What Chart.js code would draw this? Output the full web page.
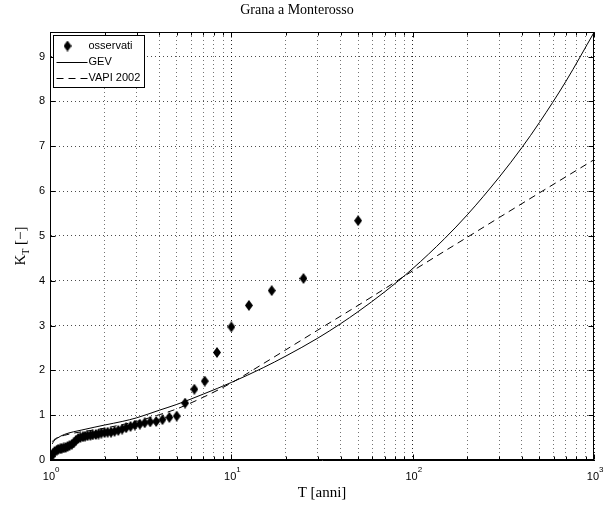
<!DOCTYPE html>
<html>
<head>
<meta charset="utf-8">
<script src="https://cdn.jsdelivr.net/npm/chart.js@4.4.0/dist/chart.umd.min.js"></script>
<style>
  html, body { margin: 0; padding: 0; background: #fff; }
</style>
</head>
<body>
<canvas id="chart" width="606" height="508"></canvas>
<script>
// Dati
const obsT = [1.02, 1.04, 1.06, 1.09, 1.11, 1.14, 1.16, 1.19, 1.22, 1.25,
  1.28, 1.32, 1.35, 1.39, 1.43, 1.47, 1.52, 1.56, 1.61, 1.67,
  1.72, 1.79, 1.85, 1.92, 2.00, 2.08, 2.17, 2.27, 2.38, 2.50,
  2.63, 2.78, 2.94, 3.13, 3.33, 3.57, 3.85, 4.17, 4.55, 5.00,
  5.56, 6.25, 7.14, 8.33, 10.0, 12.5, 16.7, 25.0, 50.0];
const obsK = [0.08, 0.15, 0.19, 0.22, 0.24, 0.25, 0.26, 0.27, 0.28, 0.30,
  0.32, 0.35, 0.38, 0.44, 0.48, 0.50, 0.52, 0.53, 0.54, 0.55,
  0.56, 0.57, 0.58, 0.60, 0.61, 0.62, 0.62, 0.64, 0.66, 0.69,
  0.72, 0.75, 0.78, 0.80, 0.83, 0.85, 0.86, 0.90, 0.95, 0.98,
  1.27, 1.58, 1.76, 2.40, 2.97, 3.45, 3.78, 4.05, 5.34];

const gevT = [1.03, 1.05, 1.1, 1.2, 1.35, 1.5, 1.75, 2, 2.5, 3, 4, 5, 7, 10,
  15, 20, 30, 40, 50, 70, 100, 150, 200, 300, 400, 500, 700, 1000];
const gevK = [0.36, 0.42, 0.49, 0.57, 0.63, 0.67, 0.73, 0.78, 0.86, 0.94, 1.11,
  1.24, 1.47, 1.73, 2.06, 2.32, 2.72, 3.04, 3.31, 3.75, 4.27, 4.94, 5.47,
  6.31, 6.97, 7.53, 8.45, 9.54];

const vapiT = [1.03, 1.05, 1.1, 1.2, 1.35, 1.5, 1.75, 2, 2.5, 3, 4, 5, 7, 10,
  15, 20, 30, 50, 70, 100, 150, 200, 300, 500, 700, 1000];
const vapiK = [0.41, 0.45, 0.50, 0.55, 0.60, 0.63, 0.67, 0.71, 0.79, 0.86, 1.01,
  1.14, 1.40, 1.72, 2.15, 2.46, 2.90, 3.45, 3.82, 4.22, 4.66, 4.97, 5.41,
  5.96, 6.32, 6.70];

const xTicks = [1, 2, 3, 4, 5, 6, 7, 8, 9, 10, 20, 30, 40, 50, 60, 70, 80, 90,
  100, 200, 300, 400, 500, 600, 700, 800, 900, 1000];
const xMajor = [1, 10, 100, 1000];
const yTicks = [0, 1, 2, 3, 4, 5, 6, 7, 8, 9];
const seriesNames = ['osservati', 'GEV', 'VAPI 2002'];

const SANS = '"Liberation Sans", Arial, sans-serif';
const SERIF = '"Liberation Serif", "Times New Roman", serif';

// marcatore a rombo (più alto che largo, come in MATLAB)
function diamond(w, h) {
  const c = document.createElement('canvas');
  c.width = w;
  c.height = h;
  const g = c.getContext('2d');
  g.fillStyle = '#000';
  g.beginPath();
  g.moveTo(w / 2, 0);
  g.lineTo(w, h / 2);
  g.lineTo(w / 2, h);
  g.lineTo(0, h / 2);
  g.closePath();
  g.fill();
  return c;
}
const marker = diamond(8, 11);

const isMajor = (v) => xMajor.includes(v);

// cornice, tacche interne, etichette e legenda stile MATLAB
const matlabFrame = {
  id: 'matlabFrame',
  afterDraw(chart) {
    const { ctx, chartArea: a, scales: { x, y } } = chart;
    const L = Math.round(a.left) + 0.5, R = Math.round(a.right) - 0.5;
    const T = Math.round(a.top) + 0.5, B = Math.round(a.bottom) - 0.5;
    ctx.save();
    ctx.strokeStyle = '#000';
    ctx.lineWidth = 1;
    ctx.strokeRect(L, T, R - L, B - T);

    ctx.beginPath();
    for (const v of xTicks) {
      const px = Math.round(x.getPixelForValue(v)) + 0.5;
      const len = isMajor(v) ? 5 : 3;
      ctx.moveTo(px, B); ctx.lineTo(px, B - len);
      ctx.moveTo(px, T); ctx.lineTo(px, T + len);
    }
    for (const v of yTicks) {
      const py = Math.round(y.getPixelForValue(v)) + 0.5;
      ctx.moveTo(L, py); ctx.lineTo(L + 5, py);
      ctx.moveTo(R, py); ctx.lineTo(R - 5, py);
    }
    ctx.stroke();

    // etichette asse x: 10^k
    ctx.fillStyle = '#000';
    ctx.textBaseline = 'middle';
    xMajor.forEach((v, k) => {
      const px = x.getPixelForValue(v);
      ctx.font = '11px ' + SANS;
      ctx.textAlign = 'right';
      ctx.fillText('10', px + 5, 477);
      ctx.font = '8px ' + SANS;
      ctx.textAlign = 'left';
      ctx.fillText(String(k), px + 5, 470);
    });

    // titolo asse x
    ctx.font = '15px ' + SERIF;
    ctx.textAlign = 'center';
    ctx.fillText('T [anni]', (a.left + a.right) / 2, 493);

    // titolo asse y: K_T [−]
    ctx.save();
    ctx.translate(21, (a.top + a.bottom) / 2);
    ctx.rotate(-Math.PI / 2);
    ctx.font = '15px ' + SERIF;
    const wK = ctx.measureText('K').width;
    ctx.font = '10px ' + SERIF;
    const wT = ctx.measureText('T').width;
    ctx.font = '15px ' + SERIF;
    const wR = ctx.measureText(' [\u2212]').width;
    const sx = -(wK + wT + wR) / 2;
    ctx.textAlign = 'left';
    ctx.fillText('K', sx, 0);
    ctx.font = '10px ' + SERIF;
    ctx.fillText('T', sx + wK, 5);
    ctx.font = '15px ' + SERIF;
    ctx.fillText(' [\u2212]', sx + wK + wT, 0);
    ctx.restore();

    // legenda
    const lx = L + 3, ly = T + 3, lw = 91, lh = 52;
    ctx.fillStyle = '#fff';
    ctx.fillRect(lx, ly, lw, lh);
    ctx.strokeRect(lx, ly, lw, lh);
    ctx.font = '11px ' + SANS;
    ctx.textAlign = 'left';
    chart.data.datasets.forEach((ds, i) => {
      const cy = ly + 10 + i * 16;
      ctx.fillStyle = '#000';
      if (ds.showLine === false) {
        ctx.drawImage(marker, lx + 14 - marker.width / 2, Math.round(cy) - marker.height / 2);
      } else {
        ctx.beginPath();
        ctx.setLineDash(ds.borderDash || []);
        ctx.moveTo(lx + 3, Math.round(cy) + 0.5);
        ctx.lineTo(lx + 34, Math.round(cy) + 0.5);
        ctx.stroke();
        ctx.setLineDash([]);
      }
      ctx.fillText(ds.label, lx + 35, cy);
    });
    ctx.restore();
  }
};

const toPoints = (xs, ys) => xs.map((t, i) => ({ x: t, y: ys[i] }));

new Chart(document.getElementById('chart').getContext('2d'), {
  type: 'line',
  data: {
    datasets: [
      {
        label: seriesNames[0],
        data: toPoints(obsT, obsK),
        showLine: false,
        pointStyle: marker,
        pointRadius: 5,
        borderColor: '#000',
        backgroundColor: '#000',
      },
      {
        label: seriesNames[1],
        data: toPoints(gevT, gevK),
        borderColor: '#000',
        borderWidth: 1,
        pointRadius: 0,
        cubicInterpolationMode: 'monotone',
      },
      {
        label: seriesNames[2],
        data: toPoints(vapiT, vapiK),
        borderColor: '#000',
        borderWidth: 1,
        borderDash: [7, 5],
        pointRadius: 0,
        cubicInterpolationMode: 'monotone',
      },
    ],
  },
  options: {
    responsive: false,
    animation: false,
    layout: { padding: { left: 0, right: 12, top: 0, bottom: 0 } },
    scales: {
      x: {
        type: 'logarithmic',
        min: 1,
        max: 1000,
        afterBuildTicks: (scale) => {
          scale.ticks = xTicks.map((v) => ({ value: v }));
        },
        afterFit: (scale) => { scale.height = 48; },
        ticks: { display: false },
        grid: {
          drawTicks: false,
          color: (c) => (c.tick && isMajor(c.tick.value) ? 'rgba(0,0,0,0.85)' : 'rgba(0,0,0,0.55)'),
        },
        border: { color: '#000', width: 1, dash: [1, 3] },
      },
      y: {
        type: 'linear',
        min: 0,
        max: 9.55,
        afterBuildTicks: (scale) => {
          scale.ticks = yTicks.map((v) => ({ value: v }));
        },
        afterFit: (scale) => { scale.width = 50; },
        ticks: {
          color: '#000',
          padding: 5,
          font: { family: SANS, size: 11 },
        },
        grid: { drawTicks: false, color: 'rgba(0,0,0,0.7)' },
        border: { color: '#000', width: 1, dash: [1, 3] },
      },
    },
    plugins: {
      legend: { display: false },
      tooltip: { enabled: false },
      title: {
        display: true,
        text: 'Grana a Monterosso',
        color: '#000',
        font: { family: SERIF, size: 14, weight: 'normal' },
        padding: { top: 2, bottom: 13.2 },
      },
    },
  },
  plugins: [matlabFrame],
});
</script>
</body>
</html>
